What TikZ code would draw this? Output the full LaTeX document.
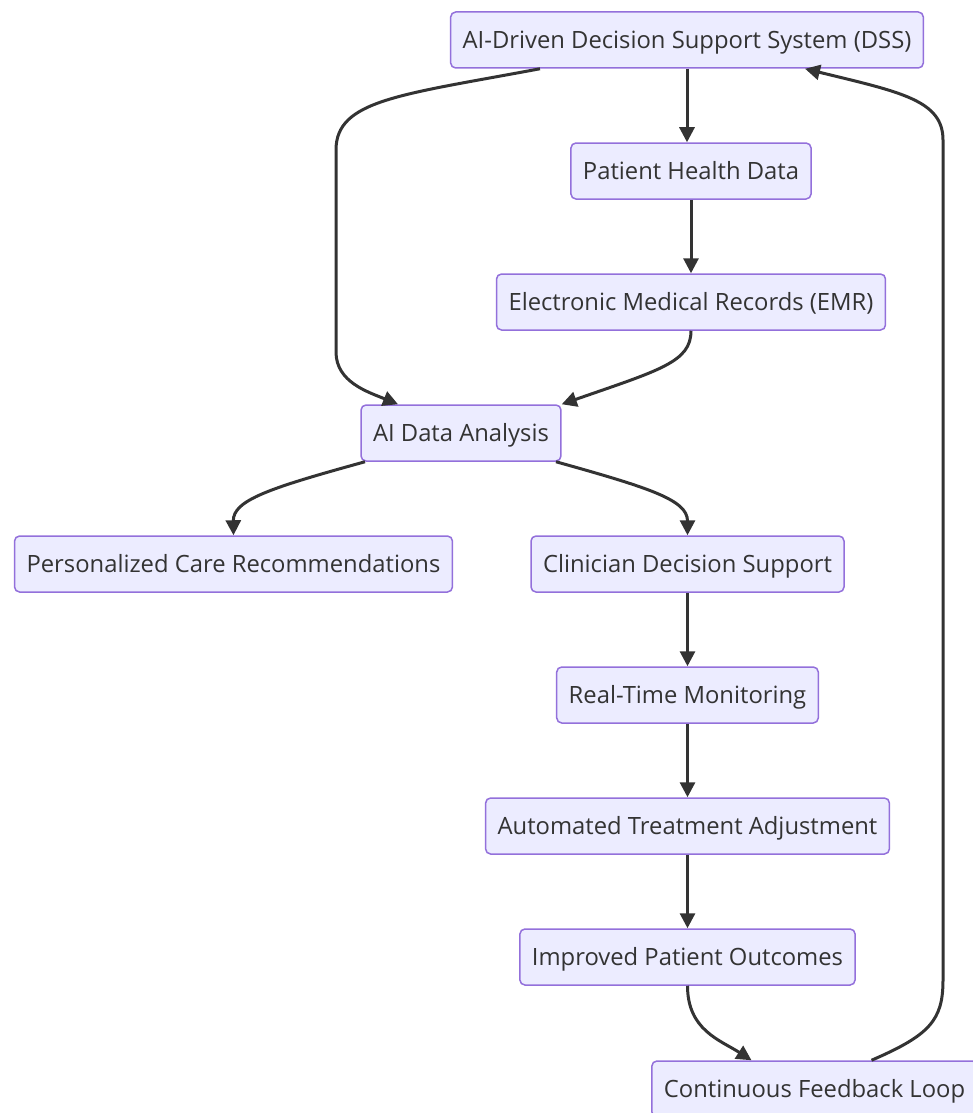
\documentclass[tikz,border=0pt]{standalone}
\usepackage{fontspec}
\setmainfont{Open Sans}
\usepackage{tikz}
\usetikzlibrary{positioning,arrows.meta}

\definecolor{boxfill}{HTML}{ECECFF}
\definecolor{boxline}{HTML}{9370DB}
\definecolor{ink}{HTML}{333333}

\begin{document}
\begin{tikzpicture}[
  x=1pt, y=-1pt,
  stage/.style={draw=boxline, fill=boxfill, rounded corners=5pt, line width=1.5pt,
    text=ink, minimum height=56pt, inner xsep=12pt, text height=17pt, text depth=0pt,
    font=\fontsize{23.8}{28}\selectfont},
  flow/.style={draw=ink, line width=3pt, -{Triangle[length=15pt,width=15pt]}},
  >=Latex
]
\useasboundingbox (0,0) rectangle (972,1113);

\node[stage] (dss) at (687,40) {AI-Driven Decision Support System (DSS)};
\node[stage] (phd) at (691,171) {Patient Health Data};
\node[stage] (emr) at (691,302) {Electronic Medical Records (EMR)};
\node[stage] (ai) at (461,433) {AI Data Analysis};
\node[stage] (pcr) at (233.5,564) {Personalized Care Recommendations};
\node[stage] (cds) at (687.5,564) {Clinician Decision Support};
\node[stage] (rtm) at (687.5,695) {Real-Time Monitoring};
\node[stage] (ata) at (687.5,826) {Automated Treatment Adjustment};
\node[stage] (ipo) at (687.5,957) {Improved Patient Outcomes};
\node[stage] (cfl) at (814.5,1089) {Continuous Feedback Loop};

\draw[flow] ([xshift=-147pt]dss.south) .. controls (400,95) and (336,100) .. (336,150)
  -- (336,352) .. controls (336,382) and (368,392) .. ([xshift=-63pt]ai.north);
\draw[flow] (dss.south) -- (dss.south |- phd.north);
\draw[flow] (phd.south) -- (emr.north);
\draw[flow] (emr.south) .. controls (691,362) and (660,370) .. (ai.north east);
\draw[flow] ([xshift=-96pt]ai.south) .. controls (270,488) and (233,500) .. (pcr.north);
\draw[flow] ([xshift=95pt]ai.south) .. controls (650,488) and (687.5,500) .. (cds.north);
\draw[flow] (cds.south) -- (rtm.north);
\draw[flow] (rtm.south) -- (ata.north);
\draw[flow] (ata.south) -- (ipo.north);
\draw[flow] (ipo.south) .. controls (687.5,1030) and (720,1040) .. ([xshift=-63pt]cfl.north);
\draw[flow] ([xshift=57pt]cfl.north) .. controls (930,1035) and (943,1020) .. (943,980)
  -- (943,140) .. controls (943,100) and (900,92) .. ([xshift=118pt]dss.south);
\end{tikzpicture}
\end{document}
